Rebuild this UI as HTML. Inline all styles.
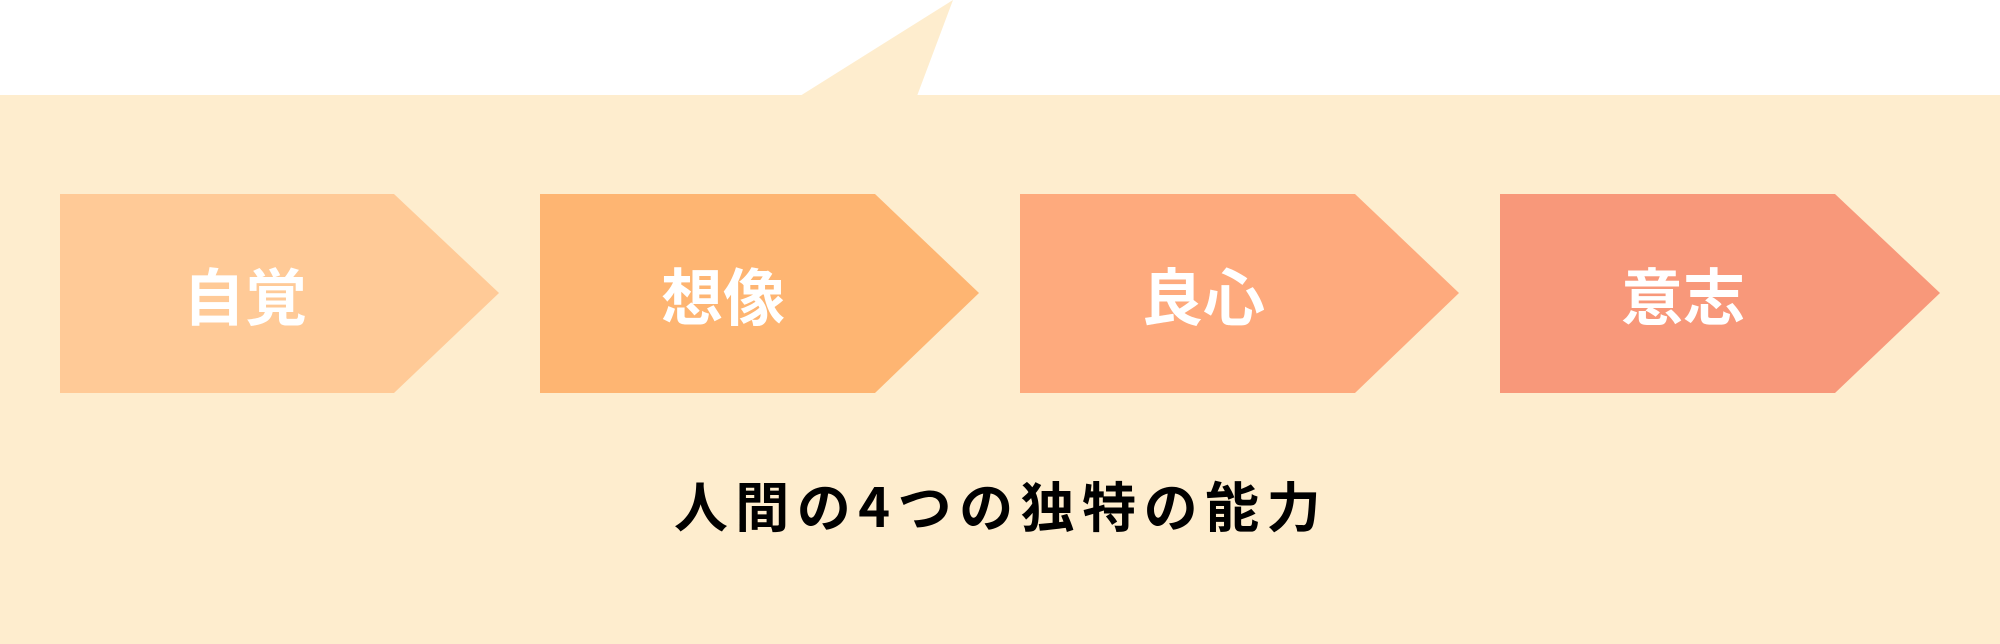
<!DOCTYPE html>
<html><head><meta charset="utf-8"><style>
html,body{margin:0;padding:0;width:2000px;height:644px;overflow:hidden;background:#fff}
svg{display:block}
text{font-family:"Liberation Sans","Noto Sans CJK JP",sans-serif;font-weight:bold}
.cap{font-family:"Noto Sans CJK JP","Liberation Sans",sans-serif}
</style></head><body>
<svg width="2000" height="644" viewBox="0 0 2000 644" xmlns="http://www.w3.org/2000/svg">
<rect x="0" y="95" width="2000" height="549" fill="#FEEDCE"/>
<polygon points="800,96 953,0 917,96" fill="#FEEDCE"/>
<polygon points="60,194 394,194 499,293 394,393 60,393" fill="#FFCA97"/>
<polygon points="540,194 875,194 979,293 875,393 540,393" fill="#FEB572"/>
<polygon points="1020,194 1355,194 1459,293 1355,393 1020,393" fill="#FEAA7D"/>
<polygon points="1500,194 1835,194 1940,293 1835,393 1500,393" fill="#F8987A"/>
<g fill="#fff" font-size="62" text-anchor="middle">
<text x="245" y="320">自覚</text>
<text x="723" y="320">想像</text>
<text x="1203" y="320">良心</text>
<text x="1683" y="320">意志</text>
</g>
<text class="cap" x="1001" y="527" font-size="54" text-anchor="middle" fill="#000" letter-spacing="7.5">人間の4つの独特の能力</text>
</svg>
</body></html>
